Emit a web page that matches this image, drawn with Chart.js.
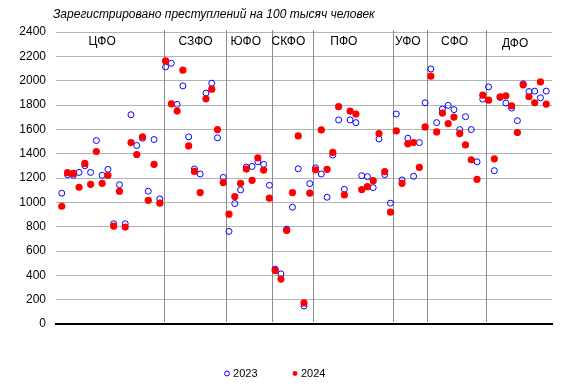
<!DOCTYPE html>
<html>
<head>
<meta charset="utf-8">
<script src="https://cdn.jsdelivr.net/npm/chart.js@4"></script>
<style>
  body { margin: 0; background: #fff; }
</style>
</head>
<body>
<canvas id="crimeChart" width="573" height="390"></canvas>
<script>
// crimes per 100k people, regions numbered 1..85
const titleText = "Зарегистрировано преступлений на 100 тысяч человек";

const regionNumbers = [
  1, 2, 3, 4, 5, 6, 7, 8, 9, 10, 11, 12, 13, 14, 15, 16, 17, 18, 19, 20,
  21, 22, 23, 24, 25, 26, 27, 28, 29, 30, 31, 32, 33, 34, 35, 36, 37, 38, 39, 40,
  41, 42, 43, 44, 45, 46, 47, 48, 49, 50, 51, 52, 53, 54, 55, 56, 57, 58, 59, 60,
  61, 62, 63, 64, 65, 66, 67, 68, 69, 70, 71, 72, 73, 74, 75, 76, 77, 78, 79, 80,
  81, 82, 83, 84, 85,
];

const crimes2023 = [
  1075, 1227, 1222, 1246, 1301, 1246, 1508, 1222, 1271, 824,
  1145, 824, 1720, 1467, 1527, 1091, 1516, 1028, 2113, 2143,
  1805, 1957, 1538, 1274, 1233, 1898, 1979, 1530, 1205, 761,
  990, 1102, 1290, 1295, 1333, 1312, 1140, 451, 412, 780,
  960, 1276, 148, 1154, 1284, 1233, 1042, 1388, 1677, 1107,
  1677, 1655, 1219, 1211, 1121, 1521, 1227, 993, 1726, 1184,
  1527, 1214, 1491, 1818, 2096, 1655, 1767, 1797, 1762, 1598,
  1704, 1598, 1333, 1848, 1949, 1260, 1862, 1816, 1775, 1671,
  1974, 1911, 1914, 1859, 1914,
];

const crimes2024 = [
  968, 1244, 1238, 1124, 1320, 1148, 1418, 1156, 1222, 805,
  1091, 797, 1491, 1393, 1538, 1017, 1312, 993, 2162, 1810,
  1750, 2086, 1464, 1254, 1080, 1851, 1930, 1598, 1162, 903,
  1047, 1156, 1273, 1181, 1366, 1265, 1034, 440, 369, 769,
  1080, 1546, 173, 1075, 1267, 1595, 1271, 1410, 1786, 1061,
  1750, 1726, 1105, 1129, 1178, 1565, 1252, 919, 1587, 1156,
  1481, 1491, 1287, 1620, 2037, 1579, 1734, 1647, 1701, 1565,
  1472, 1350, 1189, 1881, 1840, 1358, 1868, 1876, 1794, 1573,
  1966, 1868, 1818, 1990, 1808,
];

const districtNames = ["ЦФО", "СЗФО", "ЮФО", "СКФО", "ПФО", "УФО", "СФО", "ДФО"];
// where one district ends and the next starts (region number)
const districtBorders = [18.7, 29.5, 37.4, 44.6, 58.4, 64.3, 74.6];

const xTicks = [0, 5, 10, 15, 20, 25, 30, 35, 40, 45, 50, 55, 60, 65, 70, 75, 80, 85];
const yTicks = [0, 200, 400, 600, 800, 1000, 1200, 1400, 1600, 1800, 2000, 2200, 2400];

const fontFamily = "'Liberation Sans', Arial, sans-serif";
Chart.defaults.font.family = fontFamily;
Chart.defaults.color = "#000";

const toPoints = (values) => values.map((v, i) => ({ x: regionNumbers[i], y: v }));

// draws title, district separators and district names
const districtsPlugin = {
  id: "districts",
  beforeDatasetsDraw(chart, args, opts) {
    const { ctx, scales } = chart;
    const top = scales.y.getPixelForValue(2400) - 2;
    const bottom = scales.y.getPixelForValue(0) - 2;
    ctx.save();
    ctx.strokeStyle = "#8c8c8c";
    ctx.lineWidth = 1;
    districtBorders.forEach((b) => {
      const px = Math.round(scales.x.getPixelForValue(b)) + 0.5;
      ctx.beginPath();
      ctx.moveTo(px, top);
      ctx.lineTo(px, bottom);
      ctx.stroke();
    });

    ctx.fillStyle = "#000";
    ctx.font = "12px " + fontFamily;
    ctx.textAlign = "center";
    ctx.textBaseline = "middle";
    districtNames.forEach((name, i) => {
      ctx.fillText(
        name,
        scales.x.getPixelForValue(opts.labelX[i]),
        scales.y.getPixelForValue(opts.labelY[i])
      );
    });

    ctx.font = "italic 12px " + fontFamily;
    ctx.textAlign = "left";
    ctx.fillText(titleText, 53, 15);
    ctx.restore();
  },
};

new Chart(document.querySelector("#crimeChart"), {
  type: "scatter",
  data: {
    datasets: [
      {
        label: "2023",
        data: toPoints(crimes2023),
        pointStyle: "circle",
        pointRadius: 3,
        borderWidth: 1,
        borderColor: "#0000ff",
        backgroundColor: "rgba(255,255,255,0)",
        order: 2,
      },
      {
        label: "2024",
        data: toPoints(crimes2024),
        pointStyle: "circle",
        pointRadius: 3.6,
        borderWidth: 0,
        borderColor: "#ff0000",
        backgroundColor: "#ff0000",
        order: 1,
      },
    ],
  },
  options: {
    responsive: false,
    animation: false,
    layout: {
      padding: { top: 32, right: 21, bottom: 1, left: 0 },
    },
    scales: {
      x: {
        type: "linear",
        min: 0,
        max: 86,
        grid: { drawOnChartArea: false, drawTicks: false },
        border: { display: true, color: "#000", width: 2 },
        ticks: {
          padding: 7,
          font: { size: 12 },
          color: "#000",
          callback: (v) => String(v),
        },
        afterBuildTicks(scale) {
          scale.ticks = xTicks.map((v) => ({ value: v }));
        },
        afterFit(scale) {
          scale.height = 7;
        },
      },
      y: {
        min: 0,
        max: 2400,
        grid: { color: "#b4b4b4", drawTicks: false },
        border: { display: false },
        ticks: {
          padding: 10,
          font: { size: 12 },
          color: "#000",
          callback: (v) => String(v),
        },
        afterBuildTicks(scale) {
          scale.ticks = yTicks.map((v) => ({ value: v }));
        },
        afterFit(scale) {
          scale.width = 56;
        },
      },
    },
    plugins: {
      title: { display: false },
      tooltip: { enabled: false },
      legend: {
        position: "bottom",
        labels: {
          usePointStyle: true,
          boxWidth: 1,
          boxHeight: 3.5,
          padding: 37,
          font: { size: 11 },
          color: "#000",
          sort: (a, b) => a.datasetIndex - b.datasetIndex,
        },
      },
      districts: {
        labelX: [8.0, 24.2, 32.9, 40.3, 49.9, 61.0, 69.1, 79.6],
        labelY: [2318, 2318, 2318, 2318, 2318, 2318, 2318, 2305],
      },
    },
  },
  plugins: [districtsPlugin],
});
</script>
</body>
</html>
